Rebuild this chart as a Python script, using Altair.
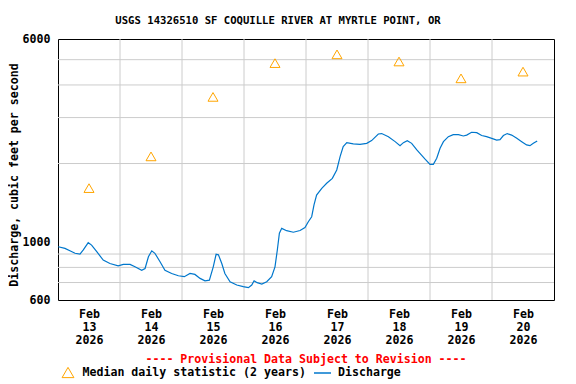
import altair as alt
import pandas as pd

TITLE = "USGS 14326510 SF COQUILLE RIVER AT MYRTLE POINT, OR"
Y_TITLE = "Discharge, cubic feet per second"
NOTE = "---- Provisional Data Subject to Revision ----"
MEDIAN_LABEL = "Median daily statistic (2 years)"
FLOW_LABEL = "Discharge"

START = "2026-02-13T00:00:00"

# hours after Feb 13 00:00 and discharge (cfs)
flow_hours = [0.1, 2.7, 4.6, 6.6, 8.5, 9.8, 11.7, 13.0, 15.0, 17.5, 20.1, 23.3, 25.3, 27.9, 29.8,
              32.4, 33.7, 35.0, 36.3, 37.5, 39.5, 41.4, 44.0, 46.6, 48.9, 51.1, 53.0, 55.0, 56.9,
              58.6, 60.1, 61.2, 62.1, 63.4, 64.6, 66.6, 69.2, 71.7, 73.7, 75.0, 75.9, 77.1, 78.9,
              80.8, 82.7, 84.0, 84.9, 85.7, 86.6, 88.5, 91.1, 93.7, 95.6, 96.9, 98.2, 99.1, 100.1,
              102.1, 104.0, 106.2, 107.9, 109.2, 110.4, 111.8, 114.3, 116.9, 119.5, 121.4, 124.0,
              125.3, 127.9, 130.5, 132.4, 133.7, 135.2, 136.9, 138.9, 140.8, 142.1, 144.0, 145.3,
              146.6, 147.9, 149.2, 151.1, 153.0, 155.0, 156.9, 158.2, 160.1, 162.1, 164.0, 165.9,
              167.9, 169.8, 171.1, 172.4, 173.9, 175.6, 177.6, 179.5, 181.4, 182.7, 184.0, 185.5]
flow_cfs = [960, 946, 926, 906, 900, 933, 995, 974, 919, 853, 828, 811, 821, 821, 804,
            780, 792, 879, 926, 906, 841, 780, 758, 743, 737, 758, 752, 726, 711,
            715, 804, 898, 895, 828, 758, 705, 685, 675, 669, 685, 711, 699, 691,
            705, 737, 804, 933, 1081, 1129, 1106, 1091, 1108, 1138, 1197, 1251, 1389, 1514,
            1607, 1680, 1755, 1889, 2126, 2322, 2405, 2378, 2370, 2390, 2448, 2595,
            2605, 2535, 2426, 2342, 2405, 2448, 2390, 2255, 2150, 2078, 1985, 1985,
            2096, 2289, 2426, 2535, 2580, 2580, 2550, 2570, 2635, 2625, 2560, 2535,
            2498, 2460, 2470, 2560, 2605, 2570, 2498, 2426, 2357, 2342, 2390, 2440]

median_days = ["2026-02-13T12:00:00", "2026-02-14T12:00:00", "2026-02-15T12:00:00",
               "2026-02-16T12:00:00", "2026-02-17T12:00:00", "2026-02-18T12:00:00",
               "2026-02-19T12:00:00", "2026-02-20T12:00:00"]
median_cfs = [1610, 2130, 3600, 4850, 5240, 4920, 4240, 4500]

day_grid = ["2026-02-14T00:00:00", "2026-02-15T00:00:00", "2026-02-16T00:00:00",
            "2026-02-17T00:00:00", "2026-02-18T00:00:00", "2026-02-19T00:00:00",
            "2026-02-20T00:00:00"]
cfs_grid = [700, 800, 900, 2000, 3000, 4000, 5000]
cfs_labels = [600, 1000, 6000]

FONT = "DejaVu Sans Mono"
TRI = "M-1,0.866L0,-0.866L1,0.866Z"

flow = pd.DataFrame({
    "t": pd.Timestamp(START) + pd.to_timedelta(flow_hours, unit="h"),
    "v": flow_cfs,
    "s": FLOW_LABEL,
})
med = pd.DataFrame({"t": pd.to_datetime(median_days), "v": median_cfs, "s": MEDIAN_LABEL})
xg = pd.DataFrame({"t": pd.to_datetime(day_grid)})
yg = pd.DataFrame({"v": cfs_grid})
tt = pd.DataFrame({"label": [TITLE]})

xscale = alt.Scale(domain=[alt.DateTime(year=2026, month=2, date=13),
                           alt.DateTime(year=2026, month=2, date=21)], nice=False)
yscale = alt.Scale(type="log", domain=[600, 6000], nice=False)

xaxis = alt.Axis(
    values=[alt.DateTime(year=2026, month=2, date=d, hours=12) for d in range(13, 21)],
    labelExpr="[timeFormat(datum.value, '%b'), timeFormat(datum.value, '%d'), timeFormat(datum.value, '%Y')]",
    grid=False, ticks=False, domain=False, labelPadding=8, labelLineHeight=13,
    labelFont=FONT, labelFontSize=11.6, labelFontWeight="bold", labelColor="black",
    labelFlush=False, labelOverlap=False,
    title=NOTE, titleColor="#ff0000", titleFont=FONT, titleFontSize=11.6, titleFontWeight="bold",
    titleX=247.5, titleY=62, titleBaseline="alphabetic", titleAlign="center",
)
yaxis = alt.Axis(
    values=cfs_labels, format="d", grid=False, ticks=False, domain=False, labelPadding=8,
    labelFont=FONT, labelFontSize=11.6, labelFontWeight="bold", labelColor="black",
    labelFlush=False, labelOverlap=False,
    title=Y_TITLE, titleFont=FONT, titleFontSize=11.6, titleFontWeight="bold", titleColor="black",
    titleX=-40.5, titleY=135.5, titleBaseline="alphabetic", titleAlign="center", titleAngle=270,
)

X = alt.X("t:T", scale=xscale, axis=xaxis)
Y = alt.Y("v:Q", scale=yscale, axis=yaxis)

xgrid = alt.Chart(xg).mark_rule(color="#cccccc", strokeWidth=1).encode(x=X)
ygrid = alt.Chart(yg).mark_rule(color="#cccccc", strokeWidth=1).encode(y=Y)

line = alt.Chart(flow).mark_line(strokeWidth=1.2).encode(
    x=X, y=Y,
    stroke=alt.Stroke("s:N", scale=alt.Scale(domain=[FLOW_LABEL], range=["#0077cc"]),
                      legend=alt.Legend(orient="none", legendX=255, legendY=324.5, title=None,
                                        symbolType="stroke", symbolSize=289, symbolStrokeWidth=1.5,
                                        labelOffset=6, labelLimit=400, labelFont=FONT,
                                        labelFontSize=11.6, labelFontWeight="bold",
                                        labelColor="black")),
)

points = alt.Chart(med).mark_point(filled=False, size=100, strokeWidth=1, color="#ffa500", opacity=1).encode(
    x=X, y=Y,
    shape=alt.Shape("s:N", scale=alt.Scale(domain=[MEDIAN_LABEL], range=[TRI]),
                    legend=alt.Legend(orient="none", legendX=3.5, legendY=327, title=None,
                                      symbolSize=140, symbolStrokeColor="#ffa500",
                                      symbolFillColor="transparent", symbolStrokeWidth=1,
                                      labelOffset=8, labelLimit=400, labelFont=FONT,
                                      labelFontSize=11.6, labelFontWeight="bold",
                                      labelColor="black")),
)

title = alt.Chart(tt).mark_text(font=FONT, fontSize=10.6, fontWeight="bold", color="black",
                                align="center", baseline="alphabetic").encode(
    text="label:N", x=alt.value(220), y=alt.value(-15)
)

chart = alt.layer(xgrid, ygrid, line, points, title).properties(
    width=496, height=261,
    padding={"left": 50, "top": 31, "right": 14, "bottom": 80},
    autosize=alt.AutoSizeParams(type="none"),
    background="white",
).configure_view(stroke="black", strokeWidth=1)

chart.save("out.html", embed_options={"renderer": "svg", "actions": False})
